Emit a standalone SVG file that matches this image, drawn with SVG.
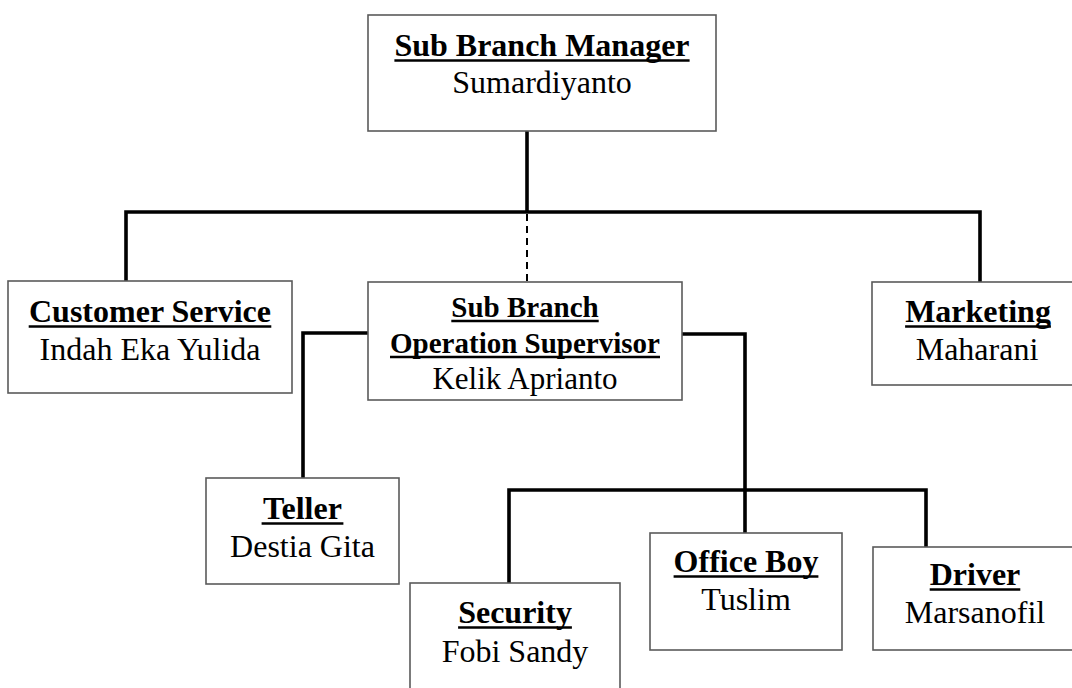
<svg xmlns="http://www.w3.org/2000/svg" width="1072" height="688" viewBox="0 0 1072 688">
<style>
.box{fill:#fff;stroke:#5a5a5a;stroke-width:1.6}
.t{font-family:"Liberation Serif","Times New Roman",serif;font-weight:bold;font-size:32px;fill:#000;text-anchor:middle}
.n{font-family:"Liberation Serif","Times New Roman",serif;font-size:32px;fill:#000;text-anchor:middle}
.u{stroke:#000;stroke-width:2.6}
.c{fill:none;stroke:#000;stroke-width:3.6}
.d{fill:none;stroke:#000;stroke-width:2;stroke-dasharray:7 5}
</style>
<rect width="1072" height="688" fill="#fff"/>
<g id="connectors">
<path class="c" d="M527 131V212"/>
<path class="c" d="M126 281V212H980V282"/>
<path class="d" d="M527 214V282"/>
<path class="c" d="M387 333H303V478"/>
<path class="c" d="M682 334H745V533"/>
<path class="c" d="M509 583V490H926V547"/>
</g>
<g id="manager">
<rect class="box" x="368" y="15" width="348" height="116"/>
<text class="t" x="542" y="56">Sub Branch Manager</text>
<line class="u" x1="394.4" y1="60.5" x2="689.6" y2="60.5"/>
<text class="n" x="542" y="93">Sumardiyanto</text>
</g>
<g id="customer-service">
<rect class="box" x="8" y="281" width="284" height="112"/>
<text class="t" x="150" y="322">Customer Service</text>
<line class="u" x1="28.7" y1="326.5" x2="271.3" y2="326.5"/>
<text class="n" x="150" y="360">Indah Eka Yulida</text>
</g>
<g id="operation-supervisor">
<rect class="box" x="368" y="282" width="314" height="118"/>
<text class="t" x="525" y="317" style="font-size:29px">Sub Branch</text>
<line class="u" x1="451.3" y1="321" x2="598.7" y2="321"/>
<text class="t" x="525" y="353" style="font-size:29px">Operation Supervisor</text>
<line class="u" x1="390" y1="357" x2="660" y2="357"/>
<text class="n" x="525" y="389" style="font-size:31px">Kelik Aprianto</text>
</g>
<g id="marketing">
<rect class="box" x="872" y="282" width="212" height="103"/>
<text class="t" x="978" y="322">Marketing</text>
<line class="u" x1="905.1" y1="326.5" x2="1050.9" y2="326.5"/>
<text class="n" x="977" y="360">Maharani</text>
</g>
<g id="teller">
<rect class="box" x="206" y="478" width="193" height="106"/>
<text class="t" x="302.5" y="519">Teller</text>
<line class="u" x1="261.6" y1="523.5" x2="343.4" y2="523.5"/>
<text class="n" x="302.5" y="557">Destia Gita</text>
</g>
<g id="security">
<rect class="box" x="410" y="583" width="210" height="120"/>
<text class="t" x="515" y="623">Security</text>
<line class="u" x1="458.1" y1="627.5" x2="571.9" y2="627.5"/>
<text class="n" x="515" y="662">Fobi Sandy</text>
</g>
<g id="office-boy">
<rect class="box" x="650" y="533" width="192" height="117"/>
<text class="t" x="746" y="572">Office Boy</text>
<line class="u" x1="673.6" y1="576.5" x2="818.4" y2="576.5"/>
<text class="n" x="746" y="610">Tuslim</text>
</g>
<g id="driver">
<rect class="box" x="873" y="547" width="212" height="103"/>
<text class="t" x="975" y="585">Driver</text>
<line class="u" x1="929.7" y1="589.5" x2="1020.3" y2="589.5"/>
<text class="n" x="975" y="623">Marsanofil</text>
</g>
</svg>
